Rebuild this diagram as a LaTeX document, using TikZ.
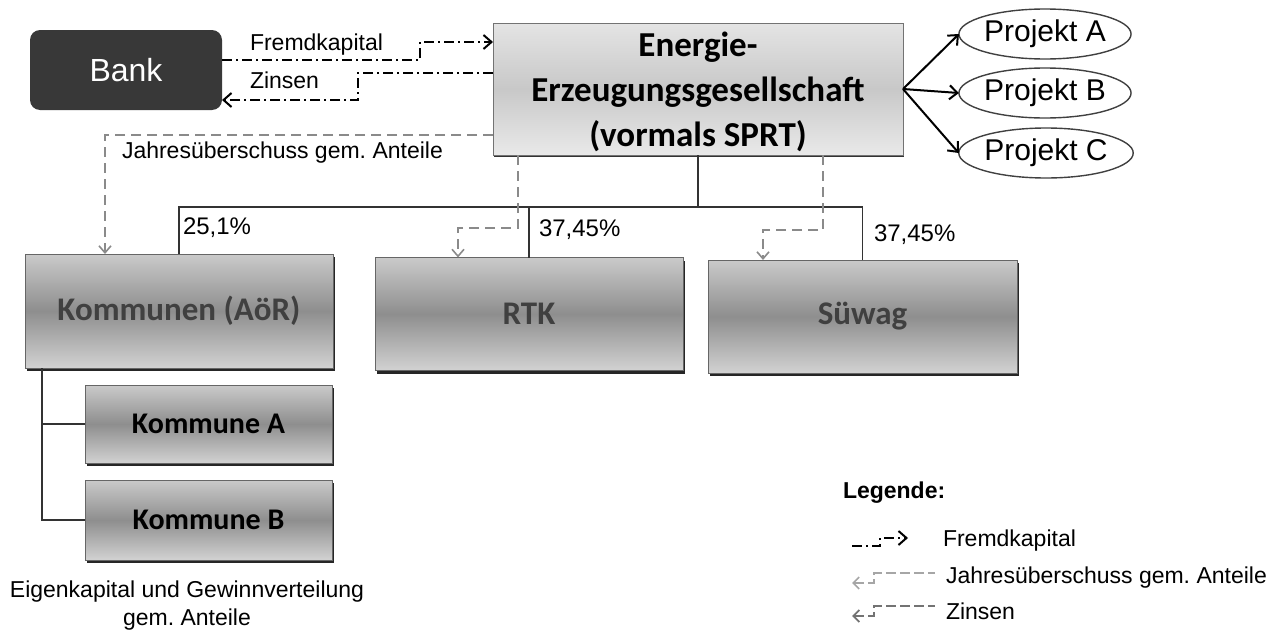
\documentclass[tikz,border=0pt]{standalone}
\usepackage{fontspec}
\setmainfont{Liberation Sans}
\newfontfamily\calfont{Carlito}
\usetikzlibrary{arrows.meta,shadows,shapes.geometric}
\definecolor{bankfill}{HTML}{383838}
\definecolor{lightA}{HTML}{E4E4E4}
\definecolor{lightB}{HTML}{C8C8C8}
\definecolor{darkA}{HTML}{CACACA}
\definecolor{darkB}{HTML}{8E8E8E}
\definecolor{boxtxt}{HTML}{404040}
\definecolor{jgray}{HTML}{8A8A8A}
\frenchspacing
\begin{document}
\begin{tikzpicture}[x=0.5pt,y=-0.5pt,
  every node/.style={inner sep=0pt, outer sep=0pt},
  tip/.style={arrows={-Straight Barb[length=4pt,width=7pt]}},
  lbl/.style={font=\fontsize{11.5}{13}\selectfont, anchor=west},
  pct/.style={font=\fontsize{12}{14}\selectfont, anchor=west},
  energy/.style={draw=black!55, line width=0.5pt, top color=lightA, bottom color=lightA!80!white, middle color=lightB,
    drop shadow={shadow xshift=0.6pt,shadow yshift=-1.2pt,fill=black!80,opacity=1}},
  etext/.style={align=center, font=\calfont\bfseries\fontsize{17.5}{22.5}\selectfont},
  grbox/.style={draw=black!60, line width=0.5pt, top color=darkA, bottom color=darkA!85!white, middle color=darkB,
    drop shadow={shadow xshift=1pt,shadow yshift=-1.5pt,fill=black!85,opacity=1},
    font=\calfont\bfseries\fontsize{16.5}{20}\selectfont, text=boxtxt},
  subbox/.style={grbox, text=black, font=\calfont\bfseries\fontsize{15}{18}\selectfont},
  proj/.style={ellipse, draw=black!75, line width=0.7pt, minimum width=82.5pt, minimum height=25pt,
    font=\fontsize{15}{18}\selectfont},
  fk/.style={draw=black, line width=1pt, dash pattern=on 5pt off 2pt on 1pt off 2pt},
  ju/.style={draw=jgray, line width=0.8pt, dash pattern=on 5pt off 3pt},
  tree/.style={draw=black!80, line width=0.7pt},
  shape=rectangle]
\useasboundingbox (0,0) rectangle (1279,637);

% main nodes
\node[draw=none, fill=bankfill, rounded corners=5pt, minimum width=96pt, minimum height=40pt,
      text=white, font=\fontsize{16}{19}\selectfont] (B) at (126,70) {Bank};
\node[energy, minimum width=205pt, minimum height=66pt] (E) at (698,89) {};
\node[etext] (Et) at ([yshift=-1.5pt]E.center) {Energie-\\Erzeugungsgesellschaft\\(vormals SPRT)};
\node[proj] (PA) at (1045,34) {Projekt A};
\node[proj] (PB) at (1045,93) {Projekt B};
\node[proj] (PC) at (1046,153) {Projekt C};

\node[grbox, minimum width=154pt, minimum height=57pt] (K) at (179,311) {Kommunen (AöR)};
\node[grbox, minimum width=154pt, minimum height=56.5pt] (R) at (529,314) {RTK};
\node[grbox, minimum width=154.5pt, minimum height=56.5pt] (S) at (862.5,316.5) {Süwag};
\node[subbox, minimum width=123.5pt, minimum height=39pt] (KA) at (208.5,424) {Kommune A};
\node[subbox, minimum width=123.5pt, minimum height=40pt] (KB) at (208.5,520) {Kommune B};

% tree
\coordinate (bar) at (0,207);
\draw[tree] (E.south) -- (E.south |- bar);
\draw[tree] (K.north) -- (K.north |- bar) -- (S.north |- bar) -- (S.north);
\draw[tree] (R.north) -- (R.north |- bar);
\draw[tree] ([xshift=8.5pt]K.south west) |- (KB.west);
\draw[tree] ([xshift=8.5pt]K.south west |- KA.west) -- (KA.west);

\node[pct] (p1) at (183,228) {25,1\%};
\node[pct] (p2) at (539,230) {37,45\%};
\node[pct] (p3) at (874,235) {37,45\%};

% projects
\draw[tip, line width=1pt] (E.east) -- (PA.west);
\draw[tip, line width=1pt] (E.east) -- (PB.west);
\draw[tip, line width=1pt] (E.east) -- (PC.west);

% bank flows
\coordinate (fkc) at (420,50);
\draw[fk, tip] ([yshift=5pt]B.east) -| (fkc) |- ([yshift=23.5pt]E.west);
\coordinate (zc) at (358,85);
\draw[fk, tip] ([yshift=8pt]E.west) -| (zc) |- ([yshift=-15pt]B.east);
\node[lbl] (lf) at (250,45) {Fremdkapital};
\node[lbl] (lz) at (250,80) {Zinsen};

% Jahresueberschuss
\draw[ju, arrows={-Straight Barb[length=3.5pt,width=6pt]}] ([yshift=-23pt]E.west) -| ([xshift=-37pt]K.north);
\node[lbl] (lj) at (122,153) {Jahresüberschuss gem. Anteile};
\coordinate (rc) at (480,228);
\draw[ju, arrows={-Straight Barb[length=3.5pt,width=6pt]}] ([xshift=-90pt]E.south) |- (rc) -| ([xshift=-35.5pt]R.north);
\coordinate (sc) at (790,230);
\draw[ju, arrows={-Straight Barb[length=3.5pt,width=6pt]}] ([xshift=62.5pt]E.south) |- (sc) -| ([xshift=-49.75pt]S.north);

% caption
\node[align=center, font=\fontsize{11.5}{14}\selectfont] (cap) at (187,606)
  {Eigenkapital und Gewinnverteilung\\gem. Anteile};

% legend
\node[lbl, font=\bfseries\fontsize{11.5}{13}\selectfont] (leg) at (843,493) {Legende:};
\coordinate (lf1) at (852,546);
\coordinate (lf2) at (880,538);
\coordinate (lf3) at (908,538);
\draw[fk, tip] (lf1) -| (lf2) -- (lf3);
\node[lbl] (lt1) at (943,541) {Fremdkapital};
\coordinate (lj1) at (852,583);
\coordinate (lj2) at (874,573);
\coordinate (lj3) at (935,573);
\draw[draw=black!35, line width=0.8pt, dash pattern=on 5pt off 2pt, arrows={Straight Barb[length=3pt,width=6pt]-}] (lj1) -| (lj2) -- (lj3);
\node[lbl] (lt2) at (946,578) {Jahresüberschuss gem. Anteile};
\coordinate (lz1) at (852,616);
\coordinate (lz2) at (874,606);
\coordinate (lz3) at (935,606);
\draw[draw=black!55, line width=0.9pt, dash pattern=on 5pt off 2pt, arrows={Straight Barb[length=3pt,width=6pt]-}] (lz1) -| (lz2) -- (lz3);
\node[lbl] (lt3) at (946,611) {Zinsen};
\end{tikzpicture}
\end{document}
